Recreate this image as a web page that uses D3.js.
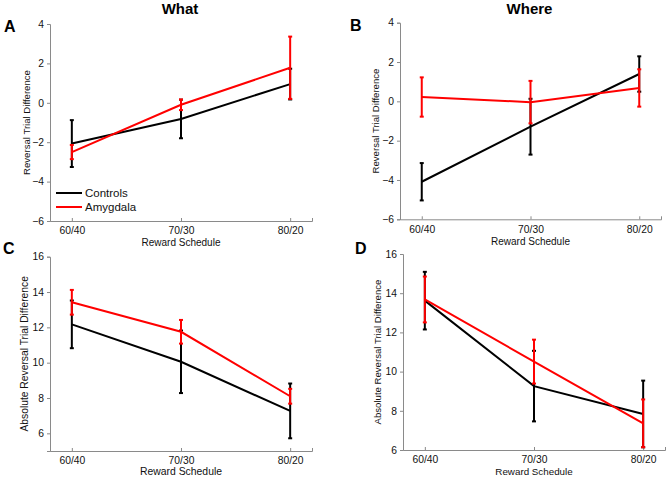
<!DOCTYPE html>
<html><head><meta charset="utf-8">
<script src="https://cdn.jsdelivr.net/npm/d3@7"></script>
<style>body{margin:0;background:#fff}svg{display:block;font-family:"Liberation Sans",Arial,sans-serif}</style>
</head><body><svg id="c" width="666" height="479"></svg>
<script>
const categories = ["60/40", "70/30", "80/20"];
const seriesNames = ["Controls", "Amygdala"];
const seriesColors = ["#000000", "#ff0000"];

const whatControls = [-2.07, -0.82, 0.95];
const whatControlsErr = [1.19, 0.98, 0.78];
const whatAmygdala = [-2.5, -0.1, 1.78];
const whatAmygdalaErr = [0.36, 0.27, 1.58];

const whereControls = [-4.09, -1.29, 1.39];
const whereControlsErr = [0.95, 1.42, 0.9];
const whereAmygdala = [0.22, -0.04, 0.68];
const whereAmygdalaErr = [1.0, 1.08, 0.95];

const absWhatControls = [12.17, 10.05, 7.27];
const absWhatControlsErr = [1.35, 1.77, 1.55];
const absWhatAmygdala = [13.42, 11.75, 8.1];
const absWhatAmygdalaErr = [0.7, 0.67, 0.42];

const absWhereControls = [13.62, 9.26, 7.84];
const absWhereControlsErr = [1.47, 1.8, 1.7];
const absWhereAmygdala = [13.68, 10.51, 7.36];
const absWhereAmygdalaErr = [1.17, 1.12, 1.22];

const diffTicks = [-6, -4, -2, 0, 2, 4];
const absTicks = [6, 8, 10, 12, 14, 16];

const panels = [
  {letter:"A", title:"What", x0:50, x1:312, y0:24, y1:221, dom:[-6,4], ticks:diffTicks,
   ylab:"Reversal Trial Difference", ylabX:30, ylabSize:9.6, xlabY:246, xlabSize:10,
   series:[[whatControls, whatControlsErr],[whatAmygdala, whatAmygdalaErr]], lx:4, ly:32, legend:true},
  {letter:"B", title:"Where", x0:400, x1:661, y0:22.7, y1:219.3, dom:[-6,4], ticks:diffTicks,
   ylab:"Reversal Trial Difference", ylabX:379, ylabSize:9.6, xlabY:244.5, xlabSize:10,
   series:[[whereControls, whereControlsErr],[whereAmygdala, whereAmygdalaErr]], lx:350, ly:31, legend:false},
  {letter:"C", title:null, x0:50, x1:312, y0:256.7, y1:451, dom:[5,16], ticks:absTicks,
   ylab:"Absolute Reversal Trial Difference", ylabX:28, ylabSize:10.3, xlabY:475, xlabSize:10.4,
   series:[[absWhatControls, absWhatControlsErr],[absWhatAmygdala, absWhatAmygdalaErr]], lx:3, ly:254, legend:false},
  {letter:"D", title:null, x0:403, x1:665, y0:254, y1:450, dom:[6,16], ticks:absTicks,
   ylab:"Absolute Reversal Trial Difference", ylabX:381, ylabSize:9.6, xlabY:474.5, xlabSize:9.8,
   series:[[absWhereControls, absWhereControlsErr],[absWhereAmygdala, absWhereAmygdalaErr]], lx:355, ly:254, legend:false}
];

const svg = d3.select("#c");
const axisColor = "#8a8a8a";

panels.forEach(p => {
  const g = svg.append("g");
  const x = d3.scaleLinear().domain([0.8, 3.2]).range([p.x0, p.x1]);
  const y = d3.scaleLinear().domain(p.dom).range([p.y1, p.y0]);

  const ya = g.append("g").attr("transform", `translate(${p.x0},0)`)
    .call(d3.axisLeft(y).tickValues(p.ticks).tickSize(3).tickPadding(3).tickFormat(d3.format("d")));
  const xa = g.append("g").attr("transform", `translate(0,${p.y1})`)
    .call(d3.axisBottom(x).tickValues([1,2,3]).tickSize(-3).tickPadding(6).tickFormat((d,i)=>categories[i]));
  [ya, xa].forEach(a => {
    a.select(".domain").attr("stroke", axisColor).attr("stroke-width", 1);
    a.selectAll(".tick line").attr("stroke", axisColor);
    a.selectAll(".tick text").attr("fill", "#111").style("font-size", "10.3px").style("font-family", '"Liberation Sans",Arial,sans-serif');
  });

  g.append("text").attr("transform", `translate(${p.ylabX},${(p.y0+p.y1)/2}) rotate(-90)`)
    .attr("text-anchor", "middle").style("font-size", p.ylabSize + "px").attr("fill", "#111").text(p.ylab);
  g.append("text").attr("x", (p.x0+p.x1)/2).attr("y", p.xlabY).attr("text-anchor", "middle")
    .style("font-size", p.xlabSize + "px").attr("fill", "#111").text("Reward Schedule");
  if (p.title) g.append("text").attr("x", (p.x0+p.x1)/2 - 1).attr("y", 14).attr("text-anchor", "middle")
    .style("font-size", "15px").style("font-weight", "bold").text(p.title);
  g.append("text").attr("x", p.lx).attr("y", p.ly).style("font-size", "16px").style("font-weight", "bold").text(p.letter);

  p.series.forEach(([vals, errs], si) => {
    const col = seriesColors[si];
    const pts = vals.map((v, i) => ({x: i + 1, v, e: errs[i]}));
    const eg = g.append("g").attr("stroke", col).attr("stroke-width", 2);
    pts.forEach(d => {
      const lo = Math.max(d.v - d.e, p.dom[0]);
      eg.append("line").attr("x1", x(d.x)).attr("x2", x(d.x)).attr("y1", y(d.v + d.e)).attr("y2", y(lo));
      eg.append("line").attr("x1", x(d.x)-2).attr("x2", x(d.x)+2).attr("y1", y(d.v + d.e)).attr("y2", y(d.v + d.e));
      eg.append("line").attr("x1", x(d.x)-2).attr("x2", x(d.x)+2).attr("y1", y(lo)).attr("y2", y(lo));
    });
    g.append("path").datum(pts).attr("fill", "none").attr("stroke", col).attr("stroke-width", 2)
      .attr("d", d3.line().x(d => x(d.x)).y(d => y(d.v)));
  });

  if (p.legend) {
    const lg = g.append("g");
    seriesNames.forEach((n, i) => {
      const yy = 193 + i * 14;
      lg.append("line").attr("x1", 56).attr("x2", 82).attr("y1", yy).attr("y2", yy)
        .attr("stroke", seriesColors[i]).attr("stroke-width", 2);
      lg.append("text").attr("x", 85).attr("y", yy + 4).style("font-size", "11.5px").attr("fill", "#111").text(n);
    });
  }
});
</script></body></html>
